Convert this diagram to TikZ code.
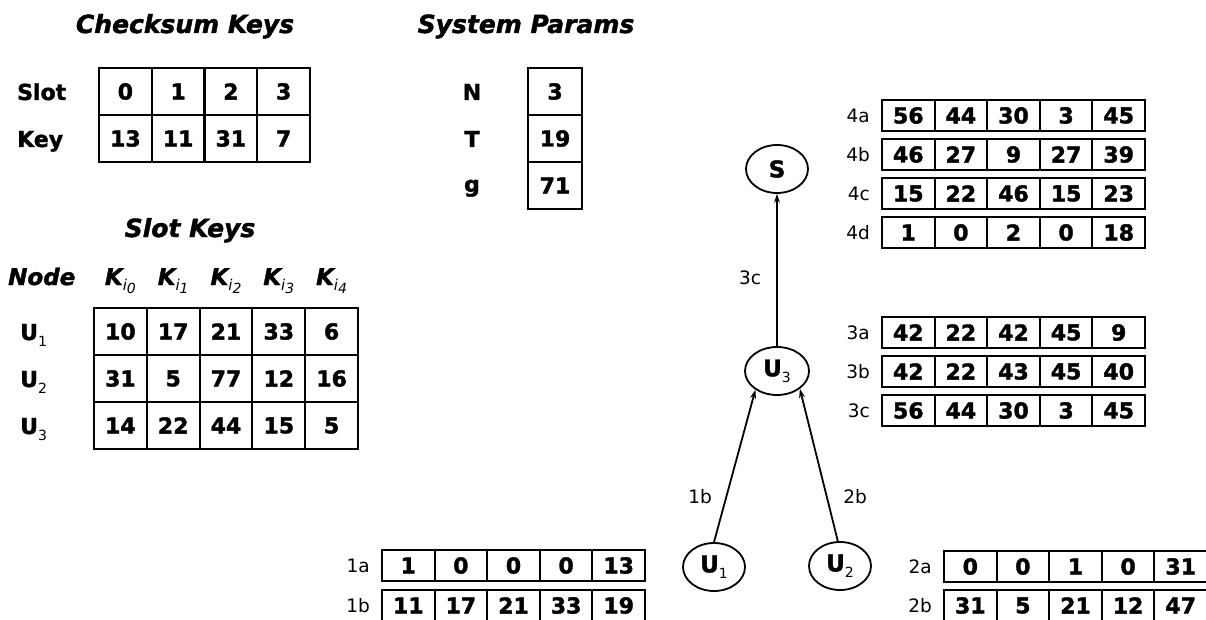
\documentclass[tikz,border=0pt]{standalone}
\usepackage{fontspec}
\setmainfont{DejaVu Sans}[BoldFeatures={FakeBold=1.6},BoldItalicFeatures={FakeBold=1.6}]
\usetikzlibrary{shapes.geometric,arrows.meta}
\tikzset{
 cell/.style={draw, line width=2.1pt, inner sep=0pt, outer sep=0pt, font=\bfseries\fontsize{22}{22}\selectfont},
 rcell/.style={cell, minimum width=52.6pt, minimum height=31pt},
 tcell/.style={cell, minimum width=52.75pt, minimum height=47pt},
 kcell/.style={cell, minimum width=52.8pt, minimum height=47pt},
 steplab/.style={font=\fontsize{18.5}{19}\selectfont, inner sep=0pt},
 titletext/.style={font=\bfseries\itshape\fontsize{25}{25}\selectfont, inner sep=0pt, anchor=base},
 rowlab/.style={font=\bfseries\fontsize{22}{22}\selectfont, inner sep=0pt, anchor=base west},
 klab/.style={font=\bfseries\itshape\fontsize{23}{23}\selectfont, inner sep=0pt, anchor=base},
 party/.style={draw, ellipse, line width=1.8pt, minimum width=62pt, minimum height=48pt, inner sep=0pt, font=\bfseries\fontsize{23}{23}\selectfont},
 flow/.style={line width=1.8pt, -{Stealth[length=9pt,width=6pt]}},
}
\newcommand\datarow[5]{%
  \node[steplab, anchor=east] (#1-lab) at (#2-12, #3+15.5) {#4};
  \foreach \v [count=\i] in {#5} {
    \node[rcell] (#1-\i) at (#2+\i*52.6-26.3, #3+15.5) {\v};
  }%
}
\newcommand\ksub[1]{K\raisebox{-5pt}{\fontsize{15}{15}\selectfont\mdseries\itshape i\raisebox{-3.5pt}{\fontsize{14}{14}\selectfont #1}}}
\newcommand\usub[2]{U\raisebox{-6pt}{\fontsize{#2}{#2}\selectfont\mdseries #1}}
\begin{document}
\begin{tikzpicture}[x=1pt,y=-1pt]
\useasboundingbox (0,0) rectangle (1206,620);
% Checksum keys
\node[titletext] (cktitle) at (185,33) {Checksum Keys};
\node[rowlab] (slotlab) at (17,100) {Slot};
\node[rowlab] (keylab) at (17,147) {Key};
\foreach \v [count=\i] in {0,1,2,3} \node[tcell] (slot-\i) at (99+\i*52.75-26.375, 91.5) {\v};
\foreach \v [count=\i] in {13,11,31,7} \node[tcell] (key-\i) at (99+\i*52.75-26.375, 138.5) {\v};
% System params
\node[titletext] (sptitle) at (526,33) {System Params};
\node[rowlab, anchor=base] (nlab) at (472,100) {N};
\node[rowlab, anchor=base] (tlab) at (472,147) {T};
\node[rowlab, anchor=base] (glab) at (472,192) {g};
\node[cell, minimum width=54pt, minimum height=47pt] (pN) at (555,91.5) {3};
\node[cell, minimum width=54pt, minimum height=47pt] (pT) at (555,138.5) {19};
\node[cell, minimum width=54pt, minimum height=47pt] (pg) at (555,185.5) {71};
% Slot keys
\node[titletext] (sktitle) at (190,237) {Slot Keys};
\node[rowlab, font=\bfseries\itshape\fontsize{23}{23}\selectfont] (nodelab) at (8,285) {Node};
\foreach \s [count=\i from 0] in {0,1,2,3,4} \node[klab] (kh-\i) at (94+\i*52.8+26.4, 285) {\ksub{\s}};
\foreach \vals [count=\j] in {{10,17,21,33,6},{31,5,77,12,16},{14,22,44,15,5}} {
  \node[rowlab] (ulab-\j) at (20, 293+\j*47) {\usub{\j}{14}};
  \foreach \v [count=\i] in \vals {
    \node[kcell] (sk-\j-\i) at (94+\i*52.8-26.4, 284.5+\j*47) {\v};
  }
}
% right-side rows
\datarow{r4a}{882}{100}{4a}{56,44,30,3,45}
\datarow{r4b}{882}{139}{4b}{46,27,9,27,39}
\datarow{r4c}{882}{178}{4c}{15,22,46,15,23}
\datarow{r4d}{882}{217}{4d}{1,0,2,0,18}
\datarow{r3a}{882}{317}{3a}{42,22,42,45,9}
\datarow{r3b}{882}{356}{3b}{42,22,43,45,40}
\datarow{r3c}{882}{395}{3c}{56,44,30,3,45}
\datarow{r1a}{382}{550}{1a}{1,0,0,0,13}
\datarow{r1b}{382}{590}{1b}{11,17,21,33,19}
\datarow{r2a}{944}{551}{2a}{0,0,1,0,31}
\datarow{r2b}{944}{590}{2b}{31,5,21,12,47}
% parties
\node[party] (S) at (777,169) {S};
\node[party, minimum width=64pt] (U3) at (777,371) {\usub{3}{14}};
\node[party] (U1) at (714,567) {\usub{1}{14}};
\node[party] (U2) at (840,566) {\usub{2}{14}};
\draw[flow] (U3.north) -- (S.south);
\draw[flow] (U1.north) -- (U3.221);
\draw[flow] (U2.95) -- (U3.322);
\node[steplab] (e3c) at (750,278) {3c};
\node[steplab] (e1b) at (700,497) {1b};
\node[steplab] (e2b) at (855,497) {2b};
\end{tikzpicture}
\end{document}
